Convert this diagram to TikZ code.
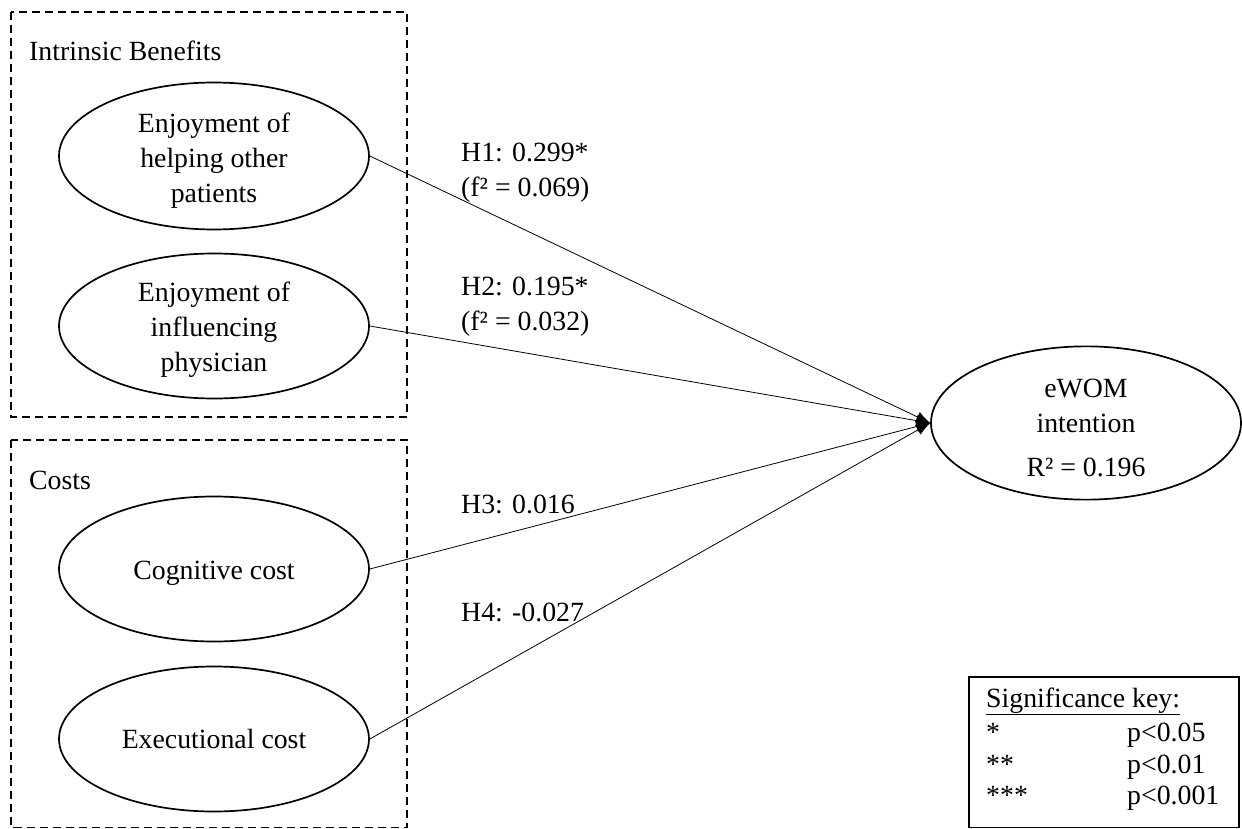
\documentclass[tikz,border=0pt]{standalone}
\usepackage{fontspec}
\setmainfont{Liberation Serif}
\usetikzlibrary{shapes.geometric,arrows.meta}
\begin{document}
\begin{tikzpicture}[x=1pt,y=-1pt,
  every node/.style={font=\fontsize{27.8}{35}\selectfont},
  latent/.style={ellipse, draw, line width=1.7pt, minimum width=310pt, minimum height=145pt, inner sep=0pt, align=center},
  groupbox/.style={draw, line width=1.6pt, dash pattern=on 8pt off 5pt},
  hpath/.style={line width=0.8pt, -{Latex[length=14pt,width=11pt]}},
  lab/.style={anchor=base west, inner sep=0pt}]
\useasboundingbox (0,0) rectangle (1242,829);

% group boxes
\draw[groupbox] (11,12) rectangle (407,417);
\draw[groupbox] (11,440) rectangle (407,827.5);
\node[lab] (gib) at (29,61) {Intrinsic Benefits};
\node[lab] (gc) at (29,489) {Costs};

% latent variables
\node[latent] (e1) at (214,156) {\rule{0pt}{28pt}Enjoyment of\\helping other\\patients};
\node[latent] (e2) at (214,326) {\rule{0pt}{26pt}Enjoyment of\\influencing\\physician};
\node[latent] (e3) at (214,569) {\rule{0pt}{26pt}Cognitive cost};
\node[latent] (e4) at (214,739) {Executional cost};
\node[latent] (ew) at (1086,423) {\rule{0pt}{29pt}eWOM\\intention\\[9pt]R² = 0.196};

% paths
\draw[hpath] (e1.east) -- (ew.west);
\draw[hpath] (e2.east) -- (ew.west);
\draw[hpath] (e3.east) -- (ew.west);
\draw[hpath] (e4.east) -- (ew.west);

% path labels
\node[lab] (h1a) at (461,162) {H1: 0.299*};
\node[lab] (h1b) at (461,197) {(f² = 0.069)};
\node[lab] (h2a) at (461,295) {H2: 0.195*};
\node[lab] (h2b) at (461,330) {(f² = 0.032)};
\node[lab] (h3) at (461,513) {H3: 0.016};
\node[lab] (h4) at (461,621) {H4: -0.027};

% significance key
\draw[line width=1.5pt] (969,677) rectangle (1239,827.5);
\node[lab] (kt) at (986,707) {\underline{Significance key:}};
\node[lab] (k1a) at (986,741) {*};
\node[lab] (k1b) at (1127,741) {p<0.05};
\node[lab] (k2a) at (986,773) {**};
\node[lab] (k2b) at (1127,773) {p<0.01};
\node[lab] (k3a) at (986,804) {***};
\node[lab] (k3b) at (1127,804) {p<0.001};
\end{tikzpicture}
\end{document}
